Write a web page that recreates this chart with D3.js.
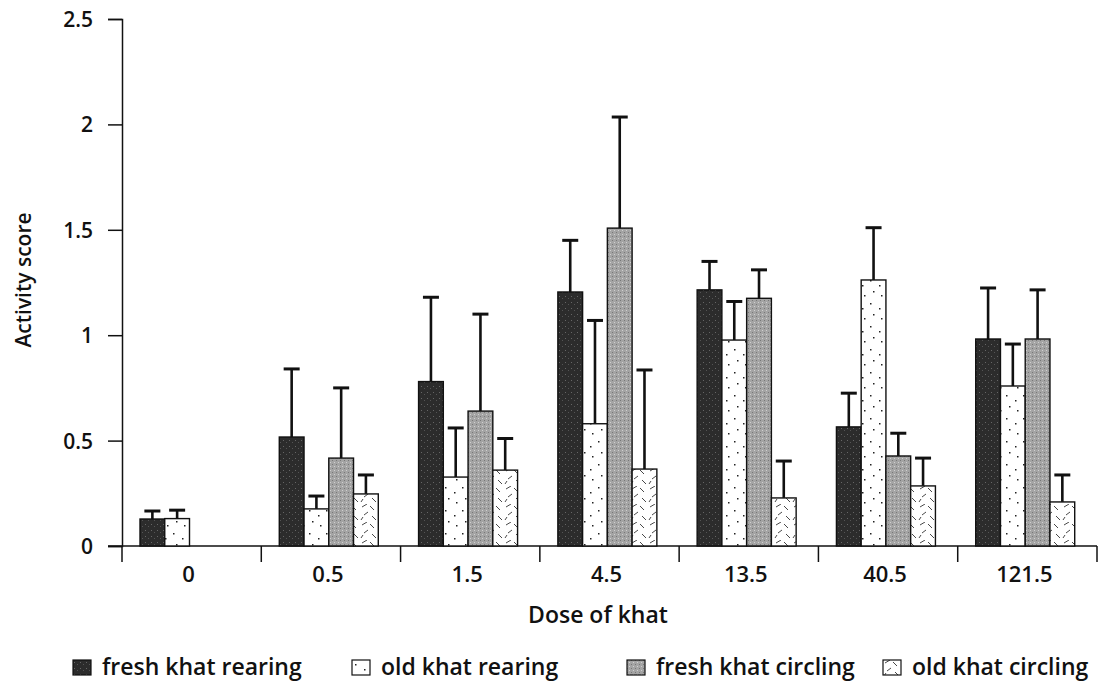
<!DOCTYPE html>
<html><head><meta charset="utf-8">
<script src="https://cdn.jsdelivr.net/npm/d3@7"></script>
<style>body{margin:0;background:#fff;} text{font-family:"Open Sans","DejaVu Sans",sans-serif;fill:#111;font-weight:600;}</style>
</head><body><svg id="c" width="1098" height="687"></svg>
<script>
const doses = ["0","0.5","1.5","4.5","13.5","40.5","121.5"];
const seriesNames = ["fresh khat rearing","old khat rearing","fresh khat circling","old khat circling"];
const freshRearing = [0.128,0.517,0.78,1.205,1.215,0.565,0.982];
const freshRearingErr = [0.166,0.84,1.18,1.45,1.35,0.725,1.224];
const oldRearing = [0.13,0.176,0.327,0.58,0.977,1.262,0.759];
const oldRearingErr = [0.17,0.237,0.56,1.07,1.16,1.51,0.958];
const freshCircling = [null,0.417,0.64,1.508,1.175,0.427,0.982];
const freshCirclingErr = [null,0.75,1.1,2.035,1.31,0.535,1.215];
const oldCircling = [null,0.247,0.36,0.365,0.228,0.285,0.209];
const oldCirclingErr = [null,0.337,0.51,0.835,0.403,0.417,0.337];
const yTicks = [0,0.5,1,1.5,2,2.5];

const svg = d3.select("#c");
const defs = svg.append("defs");
// patterns
const p1 = defs.append("pattern").attr("id","pFR").attr("width",6).attr("height",6).attr("patternUnits","userSpaceOnUse");
p1.append("rect").attr("width",6).attr("height",6).attr("fill","#2c2c2c");
p1.append("rect").attr("x",1).attr("y",2).attr("width",1).attr("height",1).attr("fill","#666");
p1.append("rect").attr("x",4).attr("y",4).attr("width",1).attr("height",1).attr("fill","#555");
const p2 = defs.append("pattern").attr("id","pOR").attr("width",17).attr("height",23).attr("patternUnits","userSpaceOnUse");
p2.append("rect").attr("width",17).attr("height",23).attr("fill","#fff");
[[3,4],[12,9],[6,15],[14,19]].forEach(d=>p2.append("rect").attr("x",d[0]).attr("y",d[1]).attr("width",1.5).attr("height",1.5).attr("fill","#222"));
const p3 = defs.append("pattern").attr("id","pFC").attr("width",4).attr("height",4).attr("patternUnits","userSpaceOnUse");
p3.append("rect").attr("width",4).attr("height",4).attr("fill","#a4a4a4");
p3.append("rect").attr("x",0).attr("y",0).attr("width",1).attr("height",1).attr("fill","#777");
p3.append("rect").attr("x",2).attr("y",2).attr("width",1).attr("height",1).attr("fill","#d0d0d0");
const p4 = defs.append("pattern").attr("id","pOC").attr("width",18).attr("height",18).attr("patternUnits","userSpaceOnUse");
p4.append("rect").attr("width",18).attr("height",18).attr("fill","#fff");
[[2,3,7,0],[10,2,14,6],[4,11,8,8],[12,12,16,16],[1,16,3,13]].forEach(d=>p4.append("line").attr("x1",d[0]).attr("y1",d[1]).attr("x2",d[2]).attr("y2",d[3]).attr("stroke","#333").attr("stroke-width",0.9));
const fills = ["url(#pFR)","url(#pOR)","url(#pFC)","url(#pOC)"];

const x0 = d3.scaleBand().domain(doses).range([122,1097]).padding(0);
const x1 = d3.scaleBand().domain(seriesNames).range([18,117]).padding(0);
const y = d3.scaleLinear().domain([0,2.5]).range([546,19]);

// y axis
const yAxis = svg.append("g").attr("transform","translate(122,0)")
  .call(d3.axisLeft(y).tickValues(yTicks).tickFormat(d=>String(d)).tickSize(14).tickPadding(15));
yAxis.select(".domain").attr("stroke","#111").attr("stroke-width",1.5);
yAxis.selectAll(".tick line").attr("stroke","#111").attr("stroke-width",1.5);
yAxis.selectAll("text").style("font-size","21px").attr("fill","#111").attr("dy","0.36em");

// x axis
const xAxis = svg.append("g").attr("transform","translate(0,546)");
xAxis.append("line").attr("x1",108).attr("x2",1097).attr("y1",0).attr("y2",0).attr("stroke","#111").attr("stroke-width",1.5);
const bounds = doses.map(d=>x0(d)).concat([x0.range()[1]]);
xAxis.selectAll("line.tk").data(bounds).enter().append("line").attr("class","tk")
  .attr("x1",d=>d).attr("x2",d=>d).attr("y1",0).attr("y2",16).attr("stroke","#111").attr("stroke-width",1.5);
xAxis.selectAll("text").data(doses).enter().append("text")
  .attr("x",d=>x0(d)+x0.bandwidth()/2-3).attr("y",36).attr("text-anchor","middle").style("font-size","22px").text(d=>d);

// bars
const vals = [freshRearing,oldRearing,freshCircling,oldCircling];
const errs = [freshRearingErr,oldRearingErr,freshCirclingErr,oldCirclingErr];
const rows = [];
doses.forEach((d,i)=>seriesNames.forEach((s,j)=>{ if(vals[j][i]!=null) rows.push({d,s,j,v:vals[j][i],e:errs[j][i]}); }));
const g = svg.append("g");
g.selectAll("line.err").data(rows).enter().append("line")
  .attr("x1",r=>x0(r.d)+x1(r.s)+x1.bandwidth()/2).attr("x2",r=>x0(r.d)+x1(r.s)+x1.bandwidth()/2)
  .attr("y1",r=>y(r.v)).attr("y2",r=>y(r.e)).attr("stroke","#111").attr("stroke-width",2.6);
g.selectAll("line.cap").data(rows).enter().append("line")
  .attr("x1",r=>x0(r.d)+x1(r.s)+x1.bandwidth()/2-8).attr("x2",r=>x0(r.d)+x1(r.s)+x1.bandwidth()/2+8)
  .attr("y1",r=>y(r.e)).attr("y2",r=>y(r.e)).attr("stroke","#111").attr("stroke-width",3);
g.selectAll("rect").data(rows).enter().append("rect")
  .attr("x",r=>x0(r.d)+x1(r.s)).attr("width",x1.bandwidth())
  .attr("y",r=>y(r.v)).attr("height",r=>y(0)-y(r.v))
  .attr("fill",r=>fills[r.j]).attr("stroke","#111").attr("stroke-width",1.4);

// titles
svg.append("text").attr("x",598).attr("y",623).attr("text-anchor","middle").style("font-size","23px").text("Dose of khat");
svg.append("text").attr("transform","translate(31,280) rotate(-90)").attr("text-anchor","middle").style("font-size","21px").text("Activity score");

// legend
const legX = [73,352,627,883];
const leg = svg.append("g").selectAll("g").data(seriesNames).enter().append("g")
  .attr("transform",(d,i)=>`translate(${legX[i]},660)`);
leg.append("rect").attr("width",18).attr("height",15).attr("fill",(d,i)=>fills[i]).attr("stroke","#111").attr("stroke-width",1.2);
leg.append("text").attr("x",29).attr("y",15).style("font-size","23px").text(d=>d);
</script></body></html>
